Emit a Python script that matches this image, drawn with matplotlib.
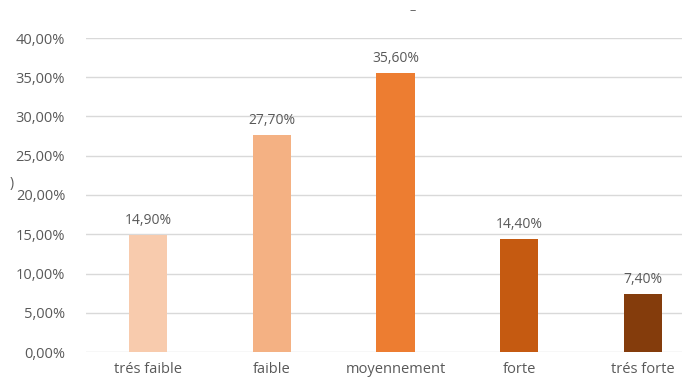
import matplotlib
matplotlib.use("Agg")
from matplotlib import pyplot as plt

categories = ["trés faible", "faible", "moyennement", "forte", "trés forte"]
values = [14.9, 27.7, 35.6, 14.4, 7.4]
colours = ["#F8CBAD", "#F4B183", "#ED7D31", "#C55A11", "#843C0C"]
yticks = [0, 5, 10, 15, 20, 25, 30, 35, 40]

plt.rcParams["font.family"] = ["Open Sans", "DejaVu Sans"]
text_c = "#595959"

fig = plt.figure(figsize=(6.82, 3.80), dpi=100)
ax = fig.add_axes([86 / 682, 28 / 380, 619 / 682, 314 / 380])

x = list(range(len(categories)))
bars = ax.bar(x, values, width=0.31, color=colours, zorder=3)
for b, v in zip(bars, values):
    ax.annotate(f"{v:.2f}%".replace(".", ","), (b.get_x() + b.get_width() / 2, v),
                xytext=(0, 5), textcoords="offset points", ha="center", va="bottom",
                fontsize=10, color=text_c)

ax.set_xlim(-0.5, len(categories) - 0.5)
ax.set_ylim(0, 40)
ax.set_yticks(yticks)
ax.set_yticklabels([f"{t:.2f}%".replace(".", ",") for t in yticks])
ax.set_xticks(x)
ax.set_xticklabels(categories)
ax.grid(axis="y", color="#D9D9D9", lw=1, zorder=0)
ax.tick_params(axis="both", length=0, labelsize=10.5, colors=text_c)
ax.tick_params(axis="y", pad=15)
ax.tick_params(axis="x", pad=7)
for s in ax.spines.values():
    s.set_visible(False)

# leftovers of a clipped axis title and chart title
fig.text(12 / 682, 1 - 183 / 380, ")", fontsize=10, color=text_c, ha="center", va="center")
fig.text(413 / 682, 1 - 11 / 380, "–", fontsize=9, color=text_c, ha="center", va="center")

fig.savefig("out.png", dpi=100)
